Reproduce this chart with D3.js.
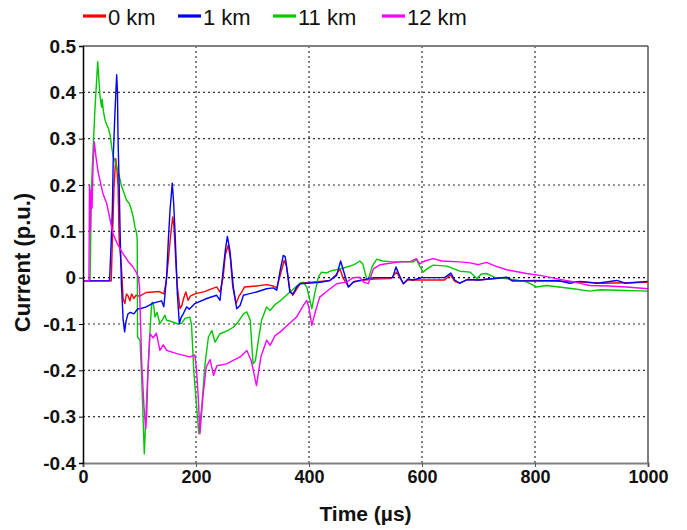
<!DOCTYPE html>
<html>
<head>
<meta charset="utf-8">
<script src="https://cdn.jsdelivr.net/npm/d3@7"></script>
<style>
  body { margin: 0; background: #fff; }
  svg { font-family: "Liberation Sans", Arial, sans-serif; }
</style>
</head>
<body>
<div id="chart"></div>
<script>
// series: [time (µs), current (p.u.)]
const km0 = [[0,-0.007],[50,-0.007],[52,0.08],[55,0.2],[58,0.257],[60,0.235],[62,0.2],[64,0.08],[68,0.023],[71,-0.045],[74,-0.056],[77,-0.035],[80,-0.04],[83,-0.05],[86,-0.035],[90,-0.045],[94,-0.038],[100,-0.04],[112,-0.032],[124,-0.031],[135,-0.03],[143,-0.035],[147,-0.01],[151,0.037],[155,0.09],[158.7,0.131],[161,0.11],[164,0.04],[167,-0.02],[171.7,-0.067],[175,-0.06],[178,-0.045],[182,-0.031],[186,-0.049],[190,-0.04],[198,-0.035],[215,-0.03],[236.6,-0.02],[242.5,-0.031],[248,0.0],[252,0.05],[257,0.07],[261,0.04],[265,-0.02],[271,-0.056],[276,-0.04],[280,-0.033],[286,-0.02],[307,-0.018],[325,-0.015],[337,-0.018],[343,-0.022],[349,0.005],[356,0.037],[360,0.025],[366,-0.025],[371,-0.038],[378,-0.025],[385,-0.012],[420,-0.008],[437,-0.006],[447,0.005],[455,0.019],[460,0.0],[470,-0.02],[480,-0.008],[514,-0.003],[545,-0.002],[555,0.012],[567,-0.013],[575,-0.005],[600,-0.005],[640,-0.005],[650,0.006],[658,-0.008],[667,-0.012],[680,-0.004],[700,-0.005],[750,0.0],[760,-0.007],[800,-0.006],[860,-0.008],[920,-0.012],[1000,-0.01]];

const km1 = [[0,-0.007],[47,-0.007],[50,0.08],[52,0.15],[53.6,0.26],[56,0.34],[59.6,0.438],[61,0.4],[62,0.3],[64,0.2],[66,0.08],[68,-0.013],[71,-0.09],[73.7,-0.117],[76,-0.095],[79.6,-0.078],[84,-0.075],[90,-0.078],[97,-0.067],[101,-0.067],[112,-0.063],[124,-0.055],[139,-0.05],[143,-0.063],[148,0.001],[151,0.08],[154,0.145],[158,0.204],[160.5,0.16],[163,0.095],[167,-0.035],[170.5,-0.099],[174,-0.085],[177.5,-0.078],[183.5,-0.063],[188,-0.068],[198,-0.056],[219,-0.045],[236.6,-0.038],[242.5,-0.049],[248,0.016],[252,0.06],[255.5,0.089],[260,0.059],[266,-0.02],[272,-0.067],[278,-0.06],[284,-0.038],[290,-0.036],[307,-0.031],[325,-0.024],[337,-0.022],[343,-0.027],[349,0.016],[354.5,0.048],[358,0.045],[362,0.01],[366,-0.031],[372,-0.035],[378,-0.02],[384,-0.013],[420,-0.01],[437,-0.006],[449,0.005],[456,0.036],[461,0.015],[469.6,-0.02],[478,-0.01],[490,-0.006],[514,0.0],[548,0.0],[554,0.023],[560,0.005],[567,-0.013],[575,-0.003],[584,-0.005],[600,0.0],[640,0.0],[651,0.01],[658,-0.005],[667,-0.012],[680,-0.004],[700,-0.005],[750,0.001],[760,-0.007],[800,-0.007],[840,-0.006],[862,-0.012],[880,-0.008],[910,-0.012],[945,-0.006],[960,-0.012],[1000,-0.008]];

const km11 = [[0,-0.007],[12.5,-0.007],[15,0.196],[18,0.28],[21,0.361],[26,0.466],[28,0.43],[30,0.394],[32,0.375],[33,0.368],[34,0.385],[36,0.36],[39,0.34],[42,0.33],[45,0.322],[48,0.308],[51,0.28],[53.6,0.26],[56,0.255],[59.6,0.239],[64,0.22],[68.5,0.196],[72,0.185],[77,0.167],[82,0.16],[86,0.145],[89,0.13],[92,0.109],[95,0.095],[96,0.08],[96.5,-0.128],[101,-0.135],[104,-0.22],[108.5,-0.38],[112.7,-0.258],[118.6,-0.114],[121.5,-0.056],[123,-0.053],[125,-0.06],[127.4,-0.085],[131,-0.075],[136,-0.099],[141,-0.09],[145,-0.081],[148,-0.092],[155,-0.094],[160,-0.096],[168,-0.1],[175,-0.098],[180.5,-0.088],[189,-0.085],[192,-0.1],[196,-0.2],[205,-0.337],[210,-0.28],[216,-0.186],[222,-0.128],[228,-0.114],[233.6,-0.139],[242.5,-0.121],[255,-0.115],[266,-0.107],[275,-0.095],[284,-0.078],[290,-0.074],[296,-0.092],[301,-0.186],[305,-0.18],[311,-0.13],[316,-0.092],[325,-0.063],[331,-0.071],[340,-0.058],[349,-0.05],[360,-0.038],[372,-0.025],[384,-0.012],[390,-0.01],[396,-0.02],[405,-0.067],[410,-0.035],[416.5,0.001],[422,0.012],[430,0.01],[440,0.015],[455,0.019],[467,0.023],[480,0.028],[490,0.036],[495,0.03],[502,-0.002],[505,-0.004],[512,0.025],[520,0.04],[530,0.036],[549,0.034],[585,0.034],[590,0.04],[596,0.025],[602,0.012],[610,0.02],[620,0.027],[644,0.025],[667,0.014],[685,0.012],[697,-0.002],[705,0.008],[714,0.009],[730,0.0],[762,-0.004],[785,-0.009],[803,-0.02],[820,-0.017],[868,-0.024],[897,-0.029],[915,-0.026],[944,-0.027],[1000,-0.029]];

const km12 = [[0,-0.007],[10.5,-0.007],[11.5,0.2],[13,0.1],[14.5,0.19],[16,0.15],[18,0.25],[20,0.293],[23,0.26],[26.5,0.23],[30,0.21],[35.4,0.181],[42,0.16],[48,0.125],[53,0.095],[62,0.07],[70.8,0.052],[80,0.035],[88.5,0.023],[95,0.01],[98,0.001],[100,-0.02],[104,-0.186],[108,-0.28],[111,-0.326],[113,-0.29],[115,-0.2],[118.6,-0.121],[124,-0.13],[130,-0.12],[136,-0.157],[142,-0.145],[148,-0.157],[166,-0.164],[189,-0.171],[198,-0.167],[201,-0.2],[204,-0.258],[207,-0.337],[212,-0.26],[218,-0.193],[225,-0.177],[231,-0.211],[237,-0.19],[254,-0.186],[278,-0.171],[290,-0.157],[298,-0.18],[307,-0.233],[315,-0.17],[325,-0.135],[331,-0.146],[340,-0.125],[349,-0.117],[360,-0.105],[378,-0.085],[390,-0.06],[396,-0.049],[400,-0.065],[405,-0.103],[412,-0.07],[419,-0.042],[431,-0.03],[449,-0.013],[467,-0.009],[478,0.0],[490,0.001],[497,-0.01],[505,-0.013],[514,0.019],[526,0.028],[537,0.03],[561,0.034],[580,0.035],[590,0.041],[596,0.03],[605,0.036],[620,0.041],[635,0.036],[667,0.034],[685,0.032],[700,0.028],[714,0.033],[730,0.025],[750,0.017],[785,0.009],[809,0.005],[838,-0.002],[868,-0.009],[897,-0.017],[930,-0.018],[962,-0.02],[1000,-0.024]];

const names = ["0 km", "1 km", "11 km", "12 km"];
const colors = ["#ff0000", "#0000ff", "#00c800", "#ff00ff"];
const xTicks = [0, 200, 400, 600, 800, 1000];
const yTicks = [-0.4, -0.3, -0.2, -0.1, 0, 0.1, 0.2, 0.3, 0.4, 0.5];

const width = 687, height = 530;
const margin = { left: 83, right: 39, top: 46, bottom: 67 };

const svg = d3.select("#chart").append("svg")
    .attr("width", width)
    .attr("height", height);

const x = d3.scaleLinear().domain([0, 1000]).range([margin.left, width - margin.right]);
const y = d3.scaleLinear().domain([-0.4, 0.5]).range([height - margin.bottom, margin.top]);

// grid
svg.append("g")
  .selectAll("line")
  .data(yTicks.filter(d => d > -0.4 && d < 0.5))
  .enter().append("line")
    .attr("x1", x(0)).attr("x2", x(1000))
    .attr("y1", d => y(d)).attr("y2", d => y(d))
    .attr("stroke", d => d === 0 ? "#000" : "#333")
    .attr("stroke-width", d => d === 0 ? 1.3 : 1.2)
    .attr("stroke-dasharray", "2,3");

svg.append("g")
  .selectAll("line")
  .data(xTicks.filter(d => d > 0 && d < 1000))
  .enter().append("line")
    .attr("x1", d => x(d)).attr("x2", d => x(d))
    .attr("y1", y(-0.4)).attr("y2", y(0.5))
    .attr("stroke", "#333")
    .attr("stroke-width", 1.2)
    .attr("stroke-dasharray", "2,3");

// curves
svg.append("clipPath").attr("id", "plot")
  .append("rect")
    .attr("x", x(0)).attr("y", y(0.5))
    .attr("width", x(1000) - x(0)).attr("height", y(-0.4) - y(0.5));

const line = d3.line().x(d => x(d[0])).y(d => y(d[1]));
const series = [km0, km11, km1, km12];
const seriesColors = [colors[0], colors[2], colors[1], colors[3]];

svg.append("g")
    .attr("clip-path", "url(#plot)")
  .selectAll("path")
  .data(series)
  .enter().append("path")
    .attr("d", line)
    .attr("fill", "none")
    .attr("stroke", (d, i) => seriesColors[i])
    .attr("stroke-width", 1.4)
    .attr("stroke-linejoin", "round");

// frame
svg.append("line")
    .attr("x1", x(0)).attr("x2", x(1000)).attr("y1", y(0.5)).attr("y2", y(0.5))
    .attr("stroke", "#808080").attr("stroke-width", 2);
svg.append("line")
    .attr("x1", x(1000)).attr("x2", x(1000)).attr("y1", y(0.5)).attr("y2", y(-0.4))
    .attr("stroke", "#555").attr("stroke-width", 1.5);

// axes
const xAxis = svg.append("g")
    .attr("transform", "translate(0," + y(-0.4) + ")")
    .call(d3.axisBottom(x).tickValues(xTicks).tickSize(4).tickPadding(3).tickFormat(d3.format("d")));
xAxis.select(".domain").attr("stroke", "#808080").attr("stroke-width", 2.2);
xAxis.selectAll(".tick line").attr("stroke", "#555");
xAxis.selectAll("text")
    .attr("font-size", 18).attr("font-weight", "bold").attr("fill", "#111")
    .attr("font-family", "Liberation Sans, Arial, sans-serif");

const yAxis = svg.append("g")
    .attr("transform", "translate(" + x(0) + ",0)")
    .call(d3.axisLeft(y).tickValues(yTicks).tickSize(4).tickPadding(3)
      .tickFormat(d => d === 0 ? "0" : d.toFixed(1)));
yAxis.select(".domain").attr("stroke", "#000").attr("stroke-width", 1.5);
yAxis.selectAll("text")
    .attr("font-size", 19).attr("font-weight", "bold").attr("fill", "#111")
    .attr("font-family", "Liberation Sans, Arial, sans-serif");

// axis titles
svg.append("text")
    .attr("x", (x(0) + x(1000)) / 2)
    .attr("y", 521)
    .attr("text-anchor", "middle")
    .attr("font-size", 21).attr("font-weight", "bold").attr("fill", "#111")
    .text("Time (µs)");

svg.append("text")
    .attr("transform", "translate(30," + (y(0.05) + 8) + ") rotate(-90)")
    .attr("text-anchor", "middle")
    .attr("font-size", 22).attr("font-weight", "bold").attr("fill", "#111")
    .text("Current (p.u.)");

// legend
const legendX = [83, 178, 273, 382];
const legend = svg.append("g")
  .selectAll("g")
  .data(names)
  .enter().append("g")
    .attr("transform", (d, i) => "translate(" + legendX[i] + ",16)");
legend.append("line")
    .attr("x1", 0).attr("x2", 23)
    .attr("stroke", (d, i) => colors[i])
    .attr("stroke-width", 3.2);
legend.append("text")
    .attr("x", 25)
    .attr("y", 9)
    .attr("font-size", 22)
    .attr("fill", "#111")
    .text(d => d);
</script>
</body>
</html>
